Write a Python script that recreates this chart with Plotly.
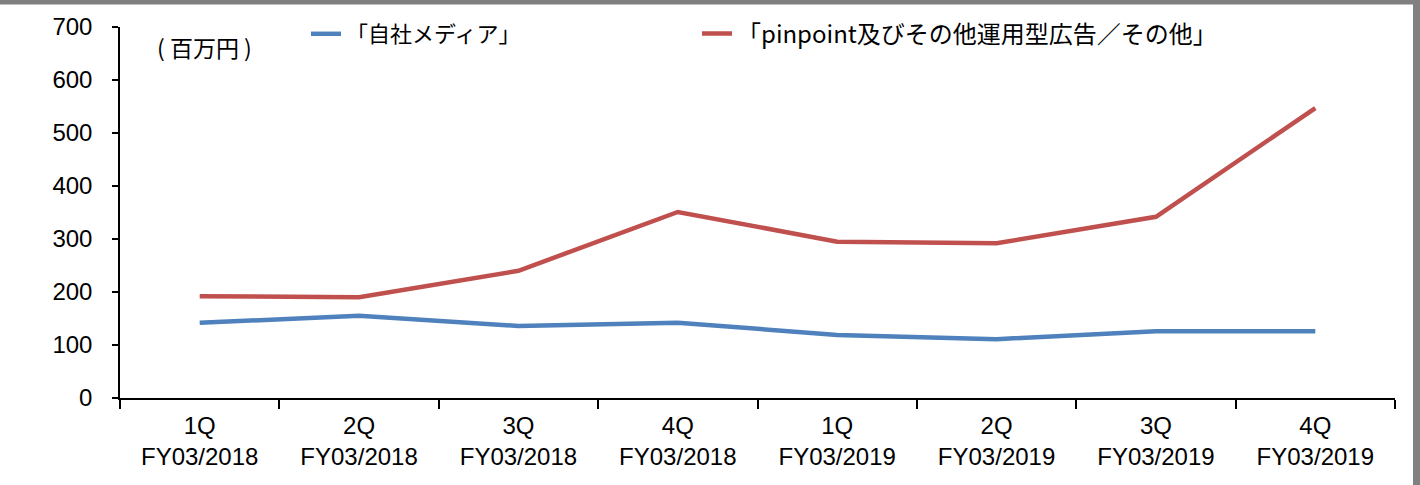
import plotly.graph_objects as go

quarters = ["1Q", "2Q", "3Q", "4Q", "1Q", "2Q", "3Q", "4Q"]
fiscal_years = ["FY03/2018"] * 4 + ["FY03/2019"] * 4
own_media = [142, 155, 136, 142, 119, 111, 126, 126]
pinpoint_other = [192, 190, 240, 351, 295, 292, 342, 547]
series_names = ["「自社メディア」", "「pinpoint及びその他運用型広告／その他」"]
unit_label = "( 百万円 )"
y_ticks = [0, 100, 200, 300, 400, 500, 600, 700]

categories = [f"{q}<br>{fy}" for q, fy in zip(quarters, fiscal_years)]

JP = "Noto Sans CJK JP"
LAT = "Liberation Sans, Arial"

W, H = 1420, 485
ml, mr, mt, mb = 120, 25, 27, 87
PW = W - ml - mr
PH = H - mt - mb


def px_x(px):
    return (px - ml) / PW


def px_y(py):
    return (H - mb - py) / PH


fig = go.Figure()
fig.add_trace(go.Scatter(x=categories, y=own_media, mode="lines", name=series_names[0],
                         line=dict(color="#4F81BD", width=4.5), legend="legend"))
fig.add_trace(go.Scatter(x=categories, y=pinpoint_other, mode="lines", name=series_names[1],
                         line=dict(color="#C0504D", width=4.5), legend="legend2"))

legend_common = dict(orientation="h", yanchor="middle", xanchor="left",
                     bgcolor="rgba(0,0,0,0)", borderwidth=0)

fig.update_layout(
    width=W, height=H,
    margin=dict(l=ml, r=mr, t=mt, b=mb, pad=0, autoexpand=False),
    plot_bgcolor="white", paper_bgcolor="white",
    showlegend=True,
    legend=dict(x=px_x(306), y=px_y(34), font=dict(family=JP, size=22, color="black"),
                **legend_common),
    legend2=dict(x=px_x(697), y=px_y(34), font=dict(family=JP, size=24, color="black"),
                 **legend_common),
    xaxis=dict(
        type="category", categoryorder="array", categoryarray=categories,
        range=[-0.5, 7.5],
        showgrid=False, zeroline=False, showline=True, linecolor="black", linewidth=1.5,
        ticks="outside", ticklen=9, tickwidth=1.5, tickcolor="black",
        tickson="boundaries", ticklabelstandoff=5,
        tickfont=dict(family=LAT, size=24, color="black"),
    ),
    yaxis=dict(
        range=[0, 700], tickmode="array", tickvals=y_ticks,
        showgrid=False, zeroline=False, showline=True, linecolor="black", linewidth=1.5,
        ticks="outside", ticklen=6, tickwidth=1.5, tickcolor="black",
        ticklabelstandoff=15,
        tickfont=dict(family=LAT, size=24, color="black"),
    ),
    annotations=[dict(text=unit_label, xref="paper", yref="paper",
                      x=px_x(155), y=px_y(47),
                      xanchor="left", yanchor="middle", showarrow=False,
                      font=dict(family=JP, size=23, color="black"))],
    shapes=[
        dict(type="rect", xref="paper", yref="paper",
             x0=px_x(-20), x1=px_x(W + 20), y0=px_y(4.5), y1=px_y(-20),
             fillcolor="#808080", line=dict(width=0), layer="above"),
        dict(type="rect", xref="paper", yref="paper",
             x0=px_x(1413), x1=px_x(W + 20), y0=px_y(H + 20), y1=px_y(-20),
             fillcolor="#808080", line=dict(width=0), layer="above"),
    ],
)

fig.write_html("out.html",
               config={"displayModeBar": False},
               post_script="document.body.style.margin='0';document.body.style.overflow='hidden';")
